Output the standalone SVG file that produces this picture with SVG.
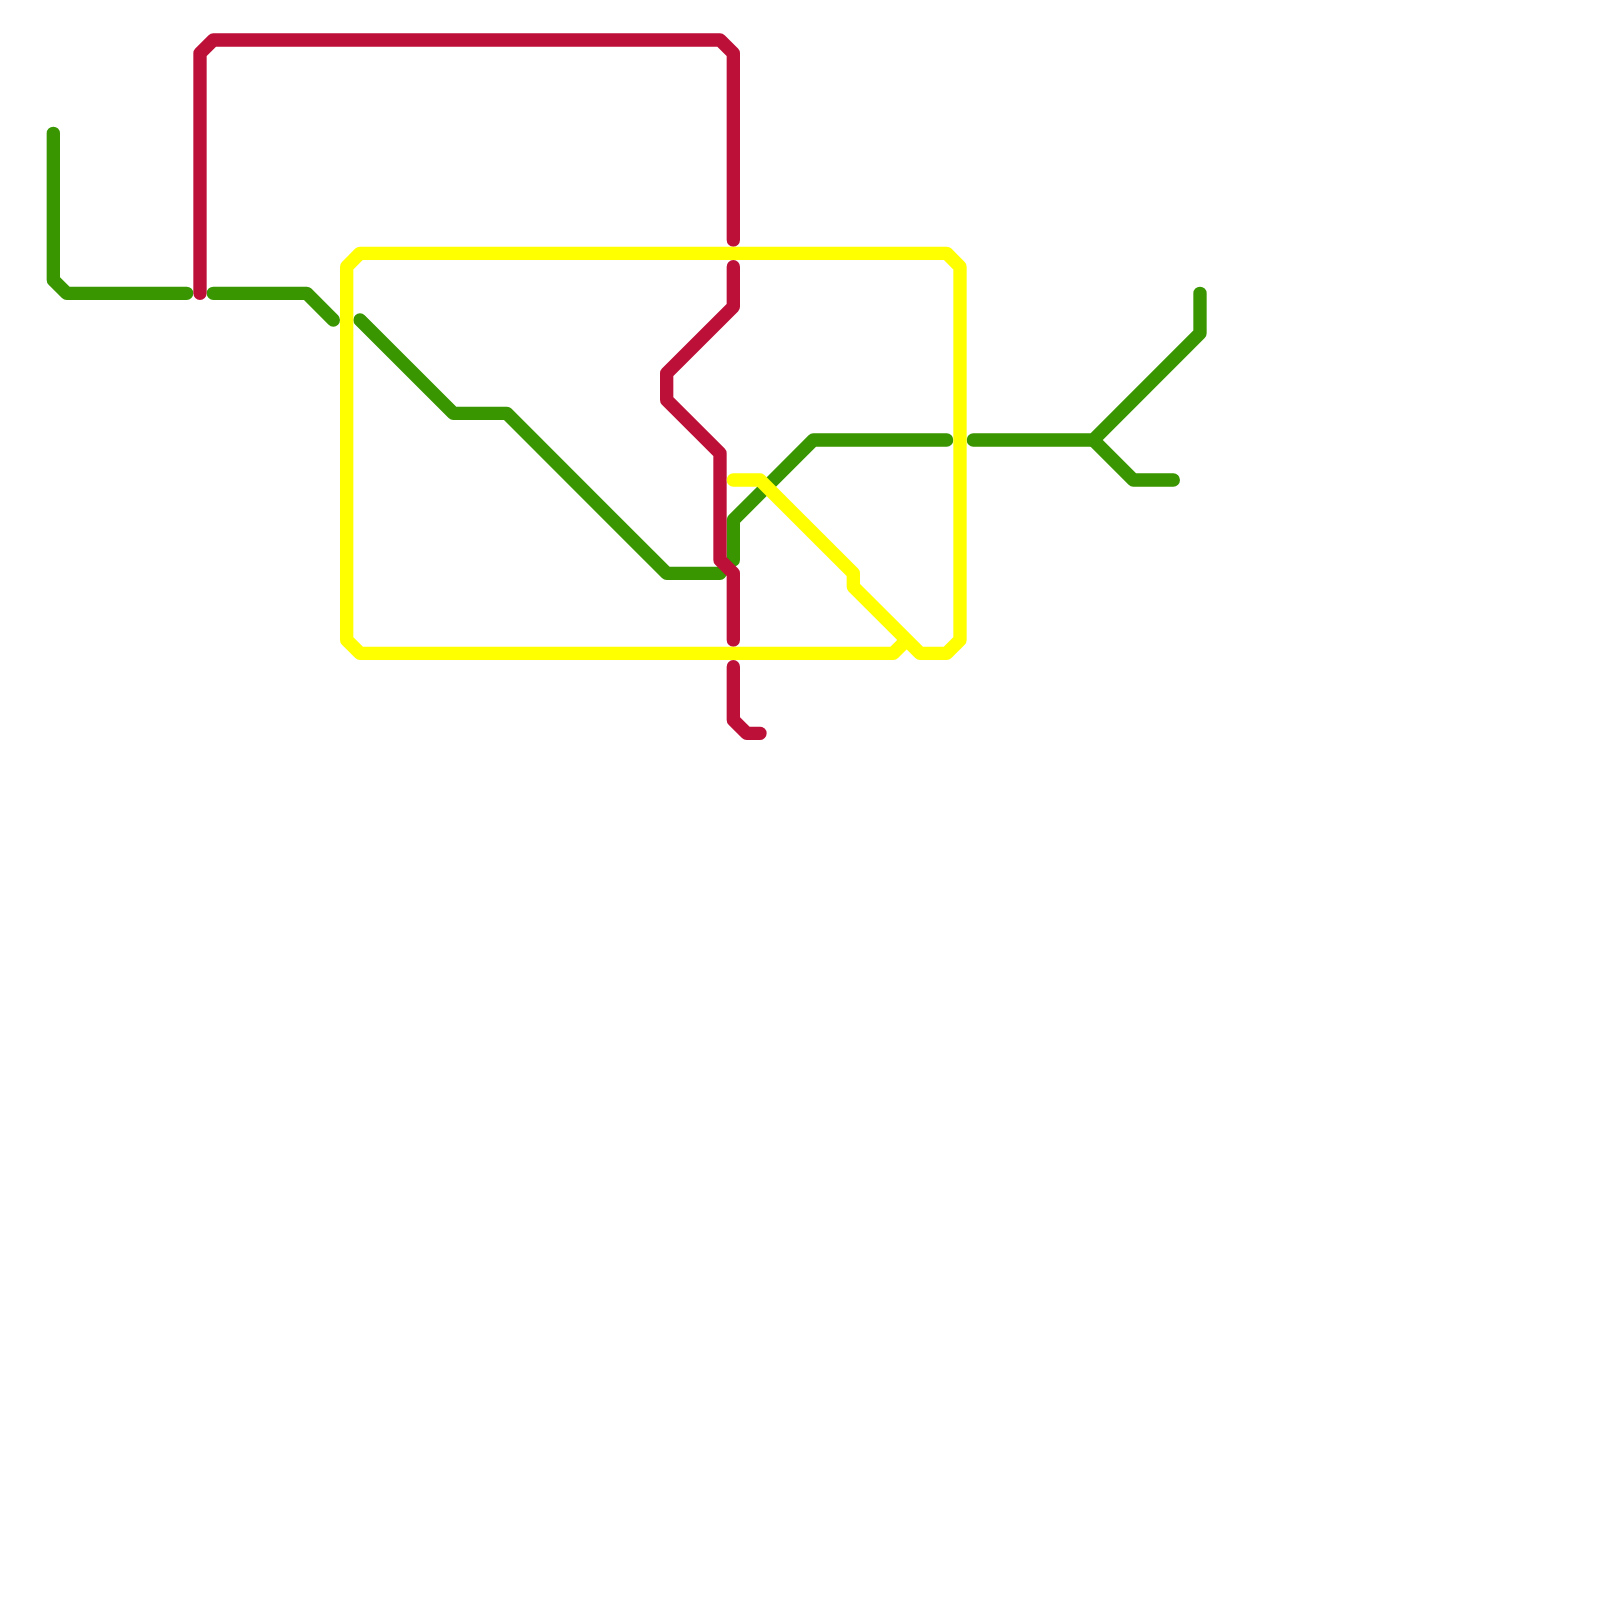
<svg xmlns="http://www.w3.org/2000/svg" width="1600" height="1600" viewBox="0 0 1600 1600">
<style>
.l{fill:none;stroke-width:13.33;stroke-linecap:round;stroke-linejoin:round}
.g{stroke:#399600}.r{stroke:#bd1038}.y{stroke:#ffff00}
</style>
<rect width="1600" height="1600" fill="#ffffff"/>
<g id="connectors">
<g id="line-green" class="l g">
<path d="M53.33 133.33V280L66.67 293.33H186.67"/>
<path d="M213.33 293.33H306.67L333.33 320"/>
<path d="M360 320L453.33 413.33H506.67L666.67 573.33H720"/>
<path d="M733.33 560V520L813.33 440H946.67"/>
<path d="M973.33 440H1093.33L1200 333.33V293.33"/>
<path d="M1093.33 440L1133.33 480H1173.33"/>
</g>
<g id="line-red" class="l r">
<path d="M200 293.33V53.33L213.33 40H720L733.33 53.33V240"/>
<path d="M733.33 266.67V306.67L666.67 373.33V400L720 453.33V560L733.33 573.33V640"/>
<path d="M733.33 666.67V720L746.67 733.33H760"/>
</g>
<g id="line-yellow" class="l y">
<path d="M906.67 640L893.33 653.33H360L346.67 640V266.67L360 253.33H946.67L960 266.67V640L946.67 653.33H920L853.33 586.67V573.33L760 480H733.33"/>
</g>
</g>
</svg>
